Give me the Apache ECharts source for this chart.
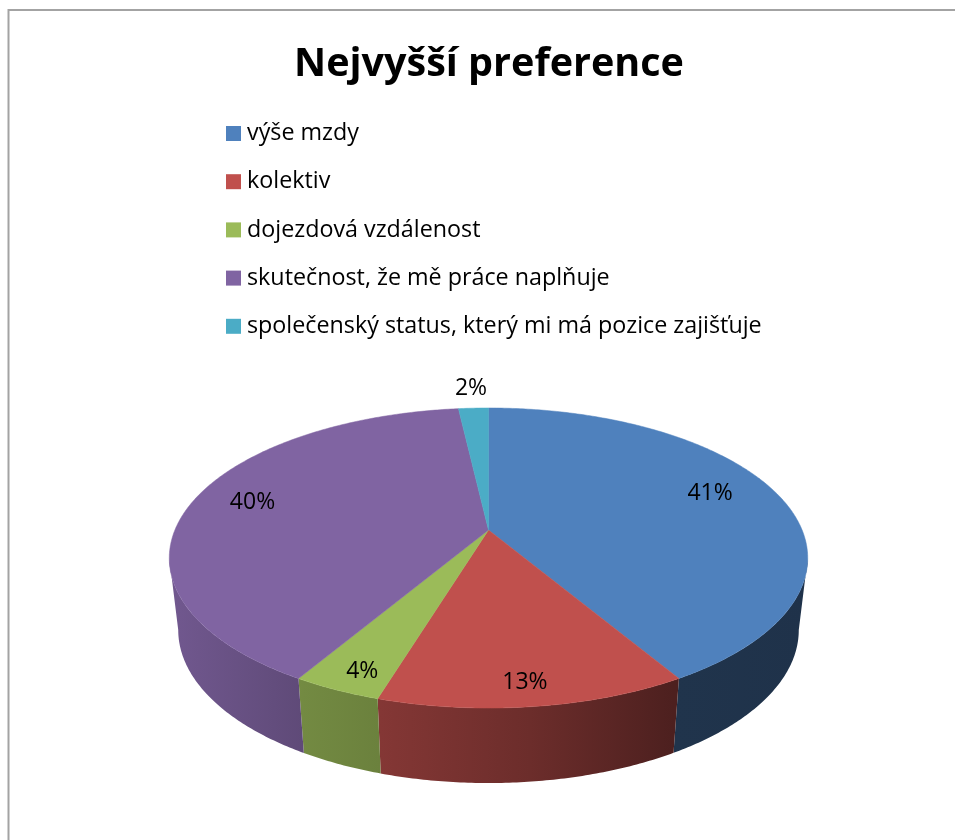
<!DOCTYPE html>
<html>
<head>
<meta charset="utf-8">
<style>html,body{margin:0;padding:0;background:#fff}#c{width:955px;height:840px}</style>
<script src="https://cdn.jsdelivr.net/npm/echarts@6/dist/echarts.min.js"></script>
</head>
<body>
<div id="c"></div>
<script>
const titleText = 'Nejvyšší preference';
const categories = ['výše mzdy','kolektiv','dojezdová vzdálenost','skutečnost, že mě práce naplňuje','společenský status, který mi má pozice zajišťuje'];
const values = [41.49, 13.2, 3.8, 39.7, 1.81];
const colors = ['#4f81bd','#c0504d','#9bbb59','#8064a2','#4bacc6'];
const labelRadius = [0.76, 0.88, 0.9, 0.8, 1.2];
const labelOffset = [[0,-9],[-3,1],[8,0],[2,-4],[0,0]];
const FONT = '"Open Sans", sans-serif';

// perspective projection of the pie's top disc
const cx = 488.5, y0 = 530, R = 313.6, S = 144.8, k = 0.1867;
const silhouetteY = 558, rimY = 630, rimSy = 1.02, rimSx = 0.972;
const total = values.reduce((a,b)=>a+b,0);
const topPt = (t,r=1)=>{const u=r*Math.sin(t),v=-r*Math.cos(t),w=1-k*v;return [cx+R*u/w,y0+S*v/w];};
const rimPt = p=>[cx+rimSx*(p[0]-cx),rimY+rimSy*(p[1]-silhouetteY)];
const shadeStops = [[170,.88],[303,.74],[380,.69],[530,.56],[673,.40],[808,.39]];
function shade(hex,m){const n=parseInt(hex.slice(1),16);const f=s=>Math.round(((n>>s)&255)*m);return `rgb(${f(16)},${f(8)},${f(0)})`;}
function sideFill(hex){
  const x0=shadeStops[0][0],x1=shadeStops[shadeStops.length-1][0];
  return new echarts.graphic.LinearGradient(x0,0,x1,0,shadeStops.map(s=>({offset:(s[0]-x0)/(x1-x0),color:shade(hex,s[1])})),true);
}
function arc(a,b){const n=Math.max(2,Math.ceil((b-a)/0.01));const p=[];for(let i=0;i<=n;i++)p.push(a+(b-a)*i/n);return p;}

function renderSlice(idx){
  return function(params,api){
    const val=api.value(0);
    let before=0;for(let i=0;i<idx;i++)before+=values[i];
    const a=before/total*2*Math.PI,b=(before+val)/total*2*Math.PI;
    const col=colors[idx],children=[];
    const lo=Math.acos(-k),hi=2*Math.PI-lo,sa=Math.max(a,lo),sb=Math.min(b,hi);
    if(sb>sa){
      const t=arc(sa,sb).map(x=>topPt(x));
      children.push({type:'polygon',shape:{points:t.concat(t.map(rimPt).reverse())},style:{fill:sideFill(col)}});
    }
    const pts=[topPt(0,0)].concat(arc(a,b).map(x=>topPt(x)));
    children.push({type:'polygon',shape:{points:pts},style:{fill:col,stroke:col,lineWidth:0.5}});
    const lp=topPt((a+b)/2,labelRadius[idx]);
    children.push({type:'text',x:lp[0]+labelOffset[idx][0],y:lp[1]+labelOffset[idx][1],z2:20,style:{text:Math.round(val/total*100)+'%',fill:'#000',font:'23px '+FONT,align:'center',verticalAlign:'middle'}});
    return {type:'group',children};
  };
}

const chart=echarts.init(document.getElementById('c'),null,{renderer:'canvas'});
chart.setOption({
  animation:false,
  backgroundColor:'#fff',
  color:colors,
  title:{text:titleText,left:484,top:31,textAlign:'center',textStyle:{fontFamily:FONT,fontWeight:'bold',fontSize:39.5,color:'#000',lineHeight:58}},
  legend:{orient:'vertical',left:226,top:122,padding:0,itemWidth:15,itemHeight:15,itemGap:25.2,icon:'rect',selectedMode:false,data:categories,
    textStyle:{fontFamily:FONT,fontSize:23.3,color:'#000',lineHeight:15,padding:[0,0,0,1]}},
  graphic:[{type:'polyline',z:-1,shape:{points:[[955,10],[8.5,10],[8.5,840]]},style:{stroke:'#a3a3a3',lineWidth:2,fill:null}}],
  series:categories.map((name,i)=>({type:'custom',name,coordinateSystem:'none',silent:true,itemStyle:{color:colors[i]},renderItem:renderSlice(i),data:[[values[i]]]}))
});
</script>
</body>
</html>
